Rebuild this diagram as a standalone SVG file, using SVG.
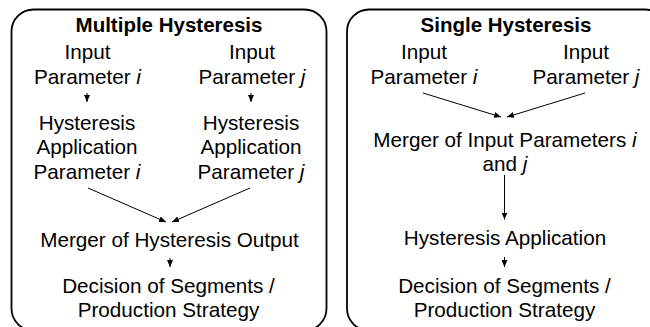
<svg xmlns="http://www.w3.org/2000/svg" width="650" height="327" viewBox="0 0 650 327">
<defs>
<style>
.box{fill:#fff;stroke:#000;stroke-width:1.8}
text{font-family:"Liberation Sans",Arial,sans-serif;font-size:20.7px;fill:#000;text-anchor:middle}
.title{font-weight:bold;font-size:20.5px}
.conn line{stroke:#000;stroke-width:1}
</style>
<marker id="ah" markerUnits="userSpaceOnUse" markerWidth="7" markerHeight="6" refX="7" refY="3" orient="auto">
<path d="M0,0 L7,3 L0,6 z" fill="#000"/>
</marker>
</defs>
<rect width="650" height="327" fill="#fff"/>
<g id="multiple">
<rect class="box" x="11.5" y="9.5" width="315" height="321" rx="22" ry="22"/>
<text class="title" x="169" y="31.5">Multiple Hysteresis</text>
</g>
<g id="single">
<rect class="box" x="347" y="9.5" width="320" height="321" rx="22" ry="22"/>
<text class="title" x="506" y="31.5">Single Hysteresis</text>
</g>
<g id="m-input-i"><text x="87.5" y="58.5">Input</text><text x="87.5" y="83.5">Parameter <tspan font-style="italic">i</tspan></text></g>
<g id="m-input-j"><text x="252" y="58.5">Input</text><text x="252" y="83.5">Parameter <tspan font-style="italic">j</tspan></text></g>
<g id="m-hyst-i"><text x="87" y="129.5">Hysteresis</text><text x="87" y="154">Application</text><text x="87" y="178.5">Parameter <tspan font-style="italic">i</tspan></text></g>
<g id="m-hyst-j"><text x="251" y="129.5">Hysteresis</text><text x="251" y="154">Application</text><text x="251" y="178.5">Parameter <tspan font-style="italic">j</tspan></text></g>
<g id="m-merger"><text x="169.5" y="246.5">Merger of Hysteresis Output</text></g>
<g id="m-decision"><text x="168.5" y="293">Decision of Segments /</text><text x="168.5" y="317">Production Strategy</text></g>
<g id="s-input-i"><text x="424" y="58.5">Input</text><text x="424" y="83.5">Parameter <tspan font-style="italic">i</tspan></text></g>
<g id="s-input-j"><text x="586" y="58.5">Input</text><text x="586" y="83.5">Parameter <tspan font-style="italic">j</tspan></text></g>
<g id="s-merger"><text x="505" y="147">Merger of Input Parameters <tspan font-style="italic">i</tspan></text><text x="505" y="171">and <tspan font-style="italic">j</tspan></text></g>
<g id="s-hyst"><text x="505" y="244.5">Hysteresis Application</text></g>
<g id="s-decision"><text x="504.5" y="292.5">Decision of Segments /</text><text x="504.5" y="317">Production Strategy</text></g>
<g class="conn" id="connectors">
<line x1="87" y1="93" x2="87" y2="102" marker-end="url(#ah)"/>
<line x1="251" y1="93" x2="251" y2="102" marker-end="url(#ah)"/>
<line x1="88" y1="188" x2="166" y2="222" marker-end="url(#ah)"/>
<line x1="250" y1="188" x2="172" y2="222" marker-end="url(#ah)"/>
<line x1="170" y1="258" x2="170" y2="267" marker-end="url(#ah)"/>
<line x1="423" y1="93" x2="501" y2="117" marker-end="url(#ah)"/>
<line x1="585" y1="93" x2="507" y2="117" marker-end="url(#ah)"/>
<line x1="504.5" y1="175" x2="504.5" y2="219.5" marker-end="url(#ah)"/>
<line x1="504.5" y1="257" x2="504.5" y2="267" marker-end="url(#ah)"/>
</g>
</svg>
